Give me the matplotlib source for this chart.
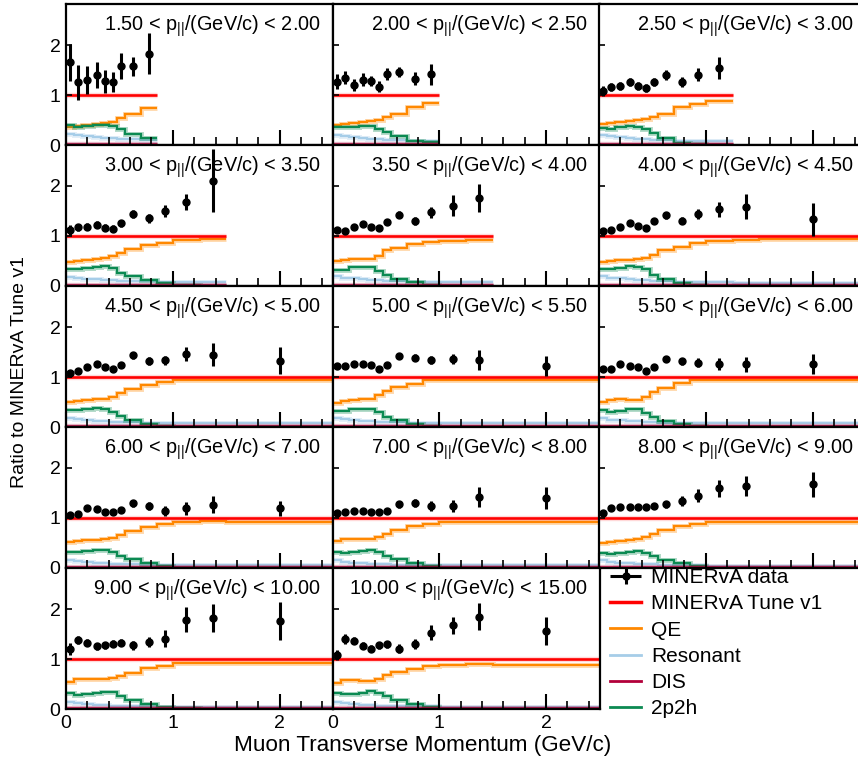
import numpy as np
import matplotlib
matplotlib.use('Agg')
import matplotlib.pyplot as plt
from matplotlib.lines import Line2D
from matplotlib.container import ErrorbarContainer
from matplotlib.legend_handler import HandlerErrorbar

plt.rcParams['font.family'] = ['Liberation Sans', 'DejaVu Sans']
plt.rcParams['mathtext.fontset'] = 'custom'
plt.rcParams['mathtext.rm'] = 'Liberation Sans'
plt.rcParams['mathtext.it'] = 'Liberation Sans'

# muon pT bin edges (GeV/c)
pt_edges = [0, 0.075, 0.15, 0.25, 0.325, 0.4, 0.475, 0.55, 0.7, 0.85, 1.0, 1.25, 1.5, 2.5]
pt_centers = [0.0375, 0.1125, 0.2, 0.2875, 0.3625, 0.4375, 0.5125, 0.625, 0.775, 0.925, 1.125, 1.375, 2.0]

# p_parallel slices
pz_lo = ['1.50', '2.00', '2.50', '3.00', '3.50', '4.00', '4.50', '5.00', '5.50', '6.00', '7.00', '8.00', '9.00', '10.00']
pz_hi = ['2.00', '2.50', '3.00', '3.50', '4.00', '4.50', '5.00', '5.50', '6.00', '7.00', '8.00', '9.00', '10.00', '15.00']

# data / Tune v1
data = [
    [1.66, 1.26, 1.30, 1.40, 1.28, 1.26, 1.58, 1.58, 1.83],
    [1.27, 1.35, 1.21, 1.31, 1.29, 1.17, 1.43, 1.47, 1.33, 1.42],
    [1.09, 1.17, 1.19, 1.27, 1.19, 1.14, 1.27, 1.41, 1.27, 1.41, 1.55],
    [1.13, 1.18, 1.19, 1.23, 1.17, 1.15, 1.26, 1.44, 1.36, 1.50, 1.68, 2.11],
    [1.13, 1.11, 1.18, 1.25, 1.18, 1.17, 1.28, 1.43, 1.31, 1.48, 1.61, 1.76],
    [1.10, 1.13, 1.19, 1.27, 1.21, 1.17, 1.30, 1.42, 1.31, 1.44, 1.54, 1.59, 1.34],
    [1.09, 1.12, 1.21, 1.26, 1.21, 1.16, 1.24, 1.44, 1.32, 1.34, 1.47, 1.45, 1.33],
    [1.23, 1.22, 1.27, 1.27, 1.25, 1.17, 1.24, 1.42, 1.39, 1.34, 1.36, 1.34, 1.22],
    [1.17, 1.17, 1.26, 1.23, 1.21, 1.13, 1.21, 1.36, 1.32, 1.29, 1.27, 1.26, 1.27],
    [1.07, 1.08, 1.20, 1.18, 1.13, 1.12, 1.17, 1.30, 1.25, 1.15, 1.20, 1.27, 1.20],
    [1.10, 1.12, 1.15, 1.15, 1.12, 1.13, 1.15, 1.28, 1.30, 1.25, 1.25, 1.42, 1.40],
    [1.10, 1.20, 1.22, 1.22, 1.22, 1.22, 1.25, 1.28, 1.35, 1.45, 1.60, 1.65, 1.68],
    [1.21, 1.38, 1.33, 1.26, 1.28, 1.31, 1.33, 1.28, 1.35, 1.41, 1.79, 1.83, 1.77],
    [1.08, 1.40, 1.37, 1.27, 1.21, 1.28, 1.30, 1.21, 1.30, 1.53, 1.68, 1.85, 1.56],
]
data_err = [
    [0.37, 0.35, 0.28, 0.26, 0.23, 0.20, 0.26, 0.19, 0.41],
    [0.15, 0.13, 0.12, 0.12, 0.10, 0.11, 0.12, 0.10, 0.12, 0.21],
    [0.10, 0.08, 0.08, 0.08, 0.08, 0.08, 0.08, 0.10, 0.10, 0.13, 0.22],
    [0.10, 0.07, 0.07, 0.07, 0.07, 0.07, 0.07, 0.08, 0.09, 0.12, 0.16, 0.63],
    [0.06, 0.06, 0.06, 0.06, 0.06, 0.06, 0.06, 0.07, 0.08, 0.11, 0.21, 0.28],
    [0.06, 0.06, 0.06, 0.06, 0.06, 0.06, 0.06, 0.07, 0.07, 0.10, 0.15, 0.25, 0.33],
    [0.06, 0.06, 0.06, 0.06, 0.06, 0.06, 0.06, 0.07, 0.08, 0.09, 0.14, 0.23, 0.27],
    [0.05, 0.05, 0.05, 0.05, 0.05, 0.05, 0.05, 0.06, 0.07, 0.08, 0.10, 0.20, 0.20],
    [0.05, 0.05, 0.05, 0.05, 0.05, 0.05, 0.05, 0.06, 0.07, 0.09, 0.12, 0.15, 0.20],
    [0.05, 0.05, 0.05, 0.05, 0.05, 0.05, 0.05, 0.07, 0.08, 0.10, 0.13, 0.17, 0.15],
    [0.05, 0.05, 0.05, 0.05, 0.05, 0.05, 0.05, 0.07, 0.08, 0.10, 0.12, 0.20, 0.22],
    [0.06, 0.06, 0.06, 0.06, 0.06, 0.06, 0.06, 0.07, 0.10, 0.13, 0.17, 0.20, 0.25],
    [0.12, 0.08, 0.07, 0.07, 0.07, 0.07, 0.07, 0.09, 0.10, 0.17, 0.25, 0.28, 0.38],
    [0.10, 0.10, 0.07, 0.07, 0.07, 0.07, 0.07, 0.09, 0.10, 0.15, 0.17, 0.27, 0.28],
]

# model components / Tune v1
qe = [
    [0.37, 0.39, 0.41, 0.43, 0.45, 0.47, 0.55, 0.62, 0.74],
    [0.40, 0.42, 0.44, 0.46, 0.48, 0.51, 0.56, 0.63, 0.77, 0.85],
    [0.43, 0.44, 0.46, 0.48, 0.50, 0.52, 0.56, 0.63, 0.76, 0.83, 0.88],
    [0.49, 0.51, 0.53, 0.55, 0.56, 0.60, 0.66, 0.74, 0.82, 0.87, 0.93, 0.95],
    [0.51, 0.53, 0.54, 0.54, 0.55, 0.60, 0.72, 0.77, 0.84, 0.88, 0.91, 0.93],
    [0.49, 0.50, 0.52, 0.53, 0.54, 0.56, 0.62, 0.72, 0.79, 0.86, 0.91, 0.93, 0.94],
    [0.51, 0.52, 0.54, 0.56, 0.57, 0.61, 0.69, 0.77, 0.85, 0.91, 0.94, 0.95, 0.95],
    [0.49, 0.53, 0.55, 0.56, 0.57, 0.64, 0.72, 0.81, 0.87, 0.94, 0.95, 0.95, 0.95],
    [0.51, 0.54, 0.56, 0.55, 0.54, 0.61, 0.71, 0.79, 0.89, 0.94, 0.95, 0.95, 0.95],
    [0.52, 0.55, 0.56, 0.57, 0.58, 0.61, 0.67, 0.75, 0.83, 0.89, 0.93, 0.94, 0.93],
    [0.54, 0.58, 0.58, 0.58, 0.59, 0.62, 0.68, 0.76, 0.84, 0.89, 0.92, 0.93, 0.92],
    [0.50, 0.53, 0.55, 0.57, 0.59, 0.62, 0.68, 0.76, 0.84, 0.89, 0.92, 0.93, 0.92],
    [0.55, 0.61, 0.61, 0.60, 0.61, 0.62, 0.66, 0.73, 0.82, 0.87, 0.92, 0.93, 0.92],
    [0.53, 0.58, 0.58, 0.56, 0.57, 0.61, 0.68, 0.75, 0.81, 0.86, 0.89, 0.90, 0.89],
]
mec = [
    [0.40, 0.37, 0.38, 0.40, 0.40, 0.39, 0.32, 0.22, 0.15],
    [0.37, 0.36, 0.37, 0.39, 0.38, 0.33, 0.27, 0.19, 0.09, 0.07],
    [0.35, 0.33, 0.37, 0.39, 0.37, 0.32, 0.25, 0.15, 0.05, 0.03, 0.01],
    [0.35, 0.34, 0.36, 0.39, 0.40, 0.36, 0.27, 0.20, 0.13, 0.06, 0.02, 0.0],
    [0.33, 0.33, 0.38, 0.39, 0.38, 0.31, 0.23, 0.15, 0.08, 0.03, 0.0, 0.0],
    [0.35, 0.35, 0.37, 0.40, 0.39, 0.35, 0.22, 0.15, 0.07, 0.02, 0.0, 0.0, 0.0],
    [0.34, 0.34, 0.37, 0.39, 0.37, 0.31, 0.22, 0.14, 0.07, 0.02, 0.0, 0.0, 0.0],
    [0.33, 0.33, 0.36, 0.37, 0.36, 0.31, 0.21, 0.14, 0.07, 0.02, 0.0, 0.0, 0.0],
    [0.34, 0.31, 0.32, 0.36, 0.37, 0.29, 0.21, 0.12, 0.07, 0.02, 0.0, 0.0, 0.0],
    [0.33, 0.32, 0.34, 0.36, 0.37, 0.33, 0.25, 0.18, 0.10, 0.05, 0.01, 0.0, 0.0],
    [0.33, 0.31, 0.33, 0.35, 0.36, 0.33, 0.25, 0.18, 0.10, 0.05, 0.01, 0.0, 0.0],
    [0.30, 0.29, 0.31, 0.33, 0.34, 0.31, 0.24, 0.17, 0.10, 0.05, 0.01, 0.0, 0.0],
    [0.33, 0.29, 0.31, 0.32, 0.35, 0.34, 0.26, 0.18, 0.10, 0.05, 0.02, 0.0, 0.0],
    [0.33, 0.30, 0.31, 0.33, 0.37, 0.33, 0.26, 0.18, 0.10, 0.05, 0.01, 0.0, 0.0],
]
res = [
    [0.23, 0.21, 0.19, 0.17, 0.15, 0.14, 0.13, 0.12, 0.11],
    [0.21, 0.19, 0.17, 0.15, 0.13, 0.12, 0.11, 0.10, 0.09, 0.08],
    [0.21, 0.19, 0.17, 0.15, 0.13, 0.12, 0.11, 0.10, 0.09, 0.08, 0.08],
    [0.18, 0.16, 0.15, 0.14, 0.13, 0.12, 0.11, 0.10, 0.10, 0.09, 0.09, 0.09],
    [0.20, 0.17, 0.16, 0.14, 0.13, 0.12, 0.11, 0.10, 0.09, 0.09, 0.08, 0.08],
    [0.20, 0.17, 0.16, 0.14, 0.13, 0.12, 0.11, 0.10, 0.09, 0.08, 0.08, 0.07, 0.07],
    [0.19, 0.16, 0.14, 0.13, 0.12, 0.11, 0.10, 0.10, 0.09, 0.09, 0.09, 0.08, 0.08],
    [0.19, 0.16, 0.14, 0.13, 0.12, 0.11, 0.10, 0.10, 0.09, 0.09, 0.08, 0.08, 0.08],
    [0.18, 0.15, 0.14, 0.13, 0.12, 0.11, 0.10, 0.09, 0.09, 0.08, 0.08, 0.08, 0.08],
    [0.17, 0.14, 0.12, 0.11, 0.10, 0.09, 0.09, 0.08, 0.07, 0.07, 0.06, 0.06, 0.06],
    [0.16, 0.13, 0.11, 0.10, 0.09, 0.08, 0.08, 0.07, 0.07, 0.06, 0.06, 0.06, 0.06],
    [0.16, 0.13, 0.11, 0.10, 0.09, 0.08, 0.08, 0.07, 0.06, 0.06, 0.05, 0.05, 0.05],
    [0.15, 0.12, 0.10, 0.09, 0.08, 0.07, 0.07, 0.06, 0.06, 0.05, 0.05, 0.05, 0.05],
    [0.15, 0.12, 0.10, 0.09, 0.08, 0.07, 0.07, 0.06, 0.06, 0.06, 0.05, 0.05, 0.05],
]
dis_level = 0.02

c_tune = '#ff0000'
c_qe = '#ff8800'
c_res = '#a6cde8'
c_dis = '#b2003a'
c_mec = '#0b8a52'

W, H = 858, 774
fig = plt.figure(figsize=(W / 100, H / 100), dpi=100)

px_w, px_h = 266.5, 141.0


def hist_line(ax, vals, color, lw, halo=0.3):
    e = pt_edges[:len(vals) + 1]
    ax.stairs(vals, e, baseline=None, color=color, lw=lw + 2.0, alpha=halo)
    ax.stairs(vals, e, baseline=None, color=color, lw=lw)


for k in range(14):
    row, col = k // 3, k % 3
    left = (66 + px_w * col) / W
    bottom = 1 - (145 + px_h * row) / H
    ax = fig.add_axes([left, bottom, 267 / W, px_h / H])
    n = len(data[k])
    hist_line(ax, qe[k], c_qe, 1.6)
    hist_line(ax, res[k], c_res, 1.6)
    hist_line(ax, mec[k], c_mec, 1.6)
    hist_line(ax, [dis_level] * n, c_dis, 1.8)
    hist_line(ax, [1.0] * n, c_tune, 1.9, halo=0.15)
    ax.errorbar(pt_centers[:n], data[k], yerr=data_err[k], fmt='o', color='black',
                ms=5, lw=2.2, capsize=0, zorder=5)
    ax.set_xlim(0, 2.5)
    ax.set_ylim(0, 2.82)
    ax.set_xticks([0, 1, 2])
    ax.set_xticks(np.arange(0.2, 2.5, 0.2), minor=True)
    ax.set_yticks([0, 1, 2])
    ax.tick_params(axis='x', which='major', direction='in', length=11, width=1.5)
    ax.tick_params(axis='x', which='minor', direction='in', length=6, width=1.2)
    ax.tick_params(axis='y', which='major', direction='in', length=4, width=1.2)
    ax.tick_params(labelsize=14, pad=4)
    for s in ax.spines.values():
        s.set_linewidth(1.6)
    if col != 0:
        ax.set_yticklabels([])
    if row != 4:
        ax.set_xticklabels([])
    ax.text(0.955, 0.935, pz_lo[k] + r' < p$_{||}$/(GeV/c) < ' + pz_hi[k],
            transform=ax.transAxes, ha='right', va='top', fontsize=14.3)

# legend in the empty bottom-right slot (data entry drawn ROOT "lep"-style)
leg_ax = fig.add_axes([599 / W, 1 - 709 / H, 258 / W, 141 / H])
leg_ax.set_axis_off()
h_data = leg_ax.errorbar([np.nan], [np.nan], xerr=[1], yerr=[1], fmt='o', color='black',
                         ms=5, lw=2.2, capsize=0)
handles = [h_data,
           Line2D([], [], color=c_tune, lw=2.5),
           Line2D([], [], color=c_qe, lw=2),
           Line2D([], [], color=c_res, lw=2),
           Line2D([], [], color=c_dis, lw=2),
           Line2D([], [], color=c_mec, lw=2)]
labels = ['MINERvA data', 'MINERvA Tune v1', 'QE', 'Resonant', 'DIS', '2p2h']
fig.legend(handles, labels, loc='upper left', bbox_to_anchor=(610 / W, 1 - 568 / H),
           frameon=False, fontsize=15, handlelength=1.5, handletextpad=0.48,
           labelspacing=0.35, borderpad=0, borderaxespad=0,
           handler_map={ErrorbarContainer: HandlerErrorbar(xerr_size=0.75, yerr_size=0.4)})

fig.text(423 / W, 1 - 746 / H, 'Muon Transverse Momentum (GeV/c)', ha='center', va='center',
         fontsize=16.2)
fig.text(20 / W, 1 - 372 / H, 'Ratio to MINERvA Tune v1', ha='center', va='center',
         rotation=90, fontsize=14)

fig.savefig('out.png', dpi=100)
